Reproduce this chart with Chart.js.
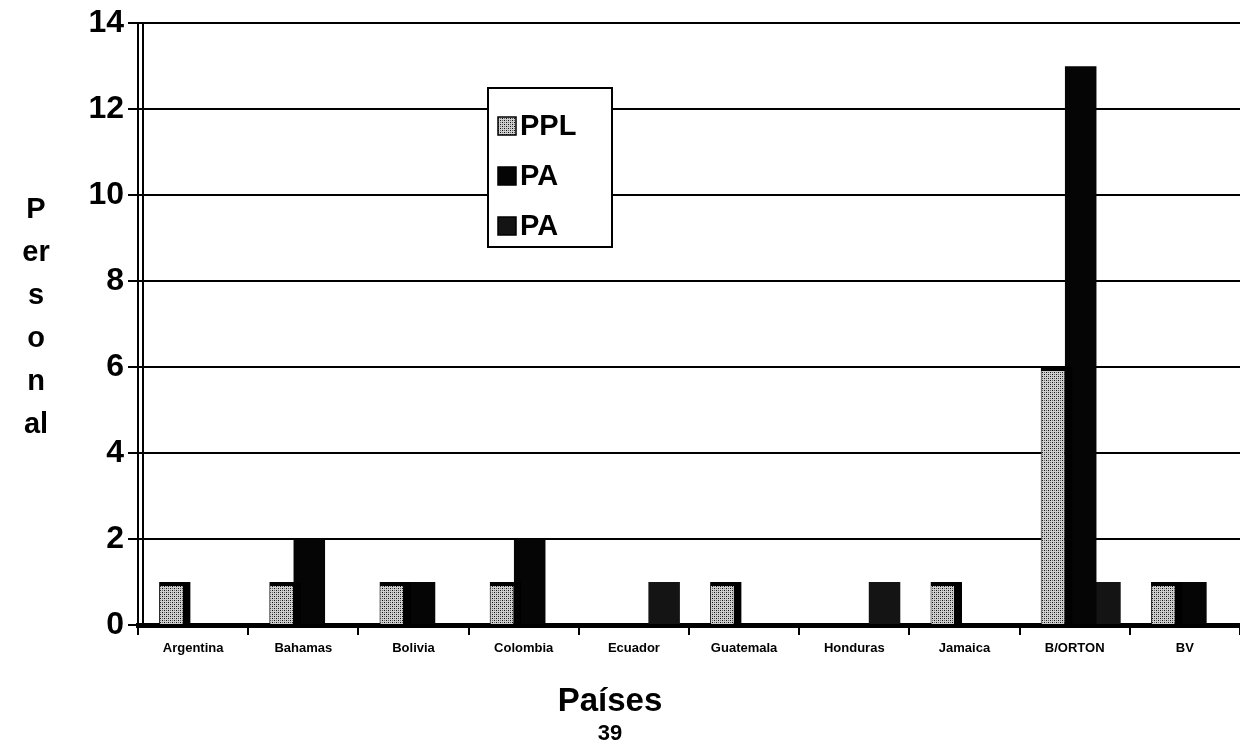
<!DOCTYPE html>
<html>
<head>
<meta charset="utf-8">
<script src="https://cdn.jsdelivr.net/npm/chart.js@4/dist/chart.umd.min.js"></script>
<style>
  html, body { margin: 0; padding: 0; background: #fff; }
  #wrap { width: 1240px; height: 745px; position: relative; }
</style>
</head>
<body>
<div id="wrap"><canvas id="chart" width="1240" height="745"></canvas></div>
<script>
const countries = ["Argentina", "Bahamas", "Bolivia", "Colombia", "Ecuador",
  "Guatemala", "Honduras", "Jamaica", "B/ORTON", "BV"];
const pplValues = [1, 1, 1, 1, 0, 1, 0, 1, 6, 1];
const paValues = [0, 2, 1, 2, 0, 0, 0, 0, 13, 1];
const pa2Values = [0, 0, 0, 0, 1, 0, 1, 0, 1, 0];
const yTicks = [0, 2, 4, 6, 8, 10, 12, 14];
const yTitleLines = ["P", "er", "s", "o", "n", "al"];
const xTitle = "Países";
const pageNumber = "39";

const FONT = '"Liberation Sans", Arial, sans-serif';

// stippled fill like the scanned PPL bars
function makeStipple() {
  const c = document.createElement("canvas");
  c.width = 4; c.height = 4;
  const g = c.getContext("2d");
  g.fillStyle = "#cfcfcf";
  g.fillRect(0, 0, 4, 4);
  g.fillStyle = "#111";
  g.fillRect(0, 0, 1, 1);
  g.fillRect(2, 2, 1, 1);
  g.fillStyle = "#666";
  g.fillRect(2, 0, 1, 1);
  g.fillRect(0, 2, 1, 1);
  return g.createPattern(c, "repeat");
}
const stipple = makeStipple();

// bars in the scan sit a little right of the category centre (3D depth)
const depthShift = {
  id: "depthShift",
  beforeDatasetsDraw(chart) { chart.ctx.save(); chart.ctx.translate(6, 0); },
  afterDatasetsDraw(chart) { chart.ctx.restore(); }
};

// y title, x title, page number, wall line and legend box
const extras = {
  id: "extras",
  afterDraw(chart) {
    const ctx = chart.ctx;
    const area = chart.chartArea;
    ctx.save();
    // second wall line
    ctx.strokeStyle = "#000";
    ctx.lineWidth = 2;
    ctx.beginPath();
    ctx.moveTo(area.left + 5, area.top);
    ctx.lineTo(area.left + 5, area.bottom);
    ctx.stroke();

    ctx.fillStyle = "#000";
    ctx.textAlign = "center";
    ctx.textBaseline = "middle";
    ctx.font = "bold 29px " + FONT;
    yTitleLines.forEach((t, i) => ctx.fillText(t, 36, 210 + i * 43));

    ctx.font = "bold 33px " + FONT;
    ctx.fillText(xTitle, 610, 702);
    ctx.font = "bold 22px " + FONT;
    ctx.fillText(pageNumber, 610, 734);

    // legend
    const lx = 488, ly = 88, lw = 124, lh = 159;
    ctx.fillStyle = "#fff";
    ctx.fillRect(lx, ly, lw, lh);
    ctx.strokeStyle = "#000";
    ctx.lineWidth = 2;
    ctx.strokeRect(lx, ly, lw, lh);
    ctx.font = "bold 29px " + FONT;
    ctx.textAlign = "left";
    chart.data.datasets.forEach((ds, i) => {
      const cy = 126 + i * 50;
      ctx.fillStyle = ds.backgroundColor;
      ctx.fillRect(498, cy - 9, 18, 18);
      ctx.strokeStyle = "#000";
      ctx.lineWidth = 1.5;
      ctx.strokeRect(498, cy - 9, 18, 18);
      ctx.fillStyle = "#000";
      ctx.fillText(ds.label, 520, cy + 1);
    });
    ctx.restore();
  }
};

const barOpts = {
  categoryPercentage: 0.66,
  barPercentage: 1.3,
  borderColor: "#000",
  borderSkipped: "bottom"
};

new Chart(document.getElementById("chart"), {
  type: "bar",
  data: {
    labels: countries,
    datasets: [
      Object.assign({ label: "PPL", data: pplValues, backgroundColor: stipple,
        borderWidth: { top: 4, right: 8, left: 1, bottom: 0 } }, barOpts),
      Object.assign({ label: "PA", data: paValues, backgroundColor: "#050505",
        borderWidth: 0 }, barOpts),
      Object.assign({ label: "PA", data: pa2Values, backgroundColor: "#141414",
        borderWidth: 0 }, barOpts)
    ]
  },
  options: {
    responsive: false,
    animation: false,
    events: [],
    layout: { padding: { top: 18, right: 0, left: 0, bottom: 0 } },
    plugins: {
      legend: { display: false },
      tooltip: { enabled: false }
    },
    scales: {
      x: {
        afterFit: (s) => { s.height = 120; },
        border: { color: "#000", width: 5 },
        grid: { display: true, drawOnChartArea: false, drawTicks: true,
          tickLength: 10, color: "#000", lineWidth: 2, offset: true },
        ticks: { color: "#000", font: { family: FONT, size: 13, weight: "bold" },
          padding: 6, maxRotation: 0, autoSkip: false }
      },
      y: {
        min: 0,
        max: 14,
        afterFit: (s) => { s.width = 138; },
        afterBuildTicks: (s) => { s.ticks = yTicks.map((v) => ({ value: v })); },
        border: { color: "#000", width: 2 },
        grid: { color: "#000", lineWidth: 2, tickLength: 10 },
        ticks: { color: "#000", font: { family: FONT, size: 32, weight: "bold" },
          padding: 4 }
      }
    }
  },
  plugins: [depthShift, extras]
});
</script>
</body>
</html>
